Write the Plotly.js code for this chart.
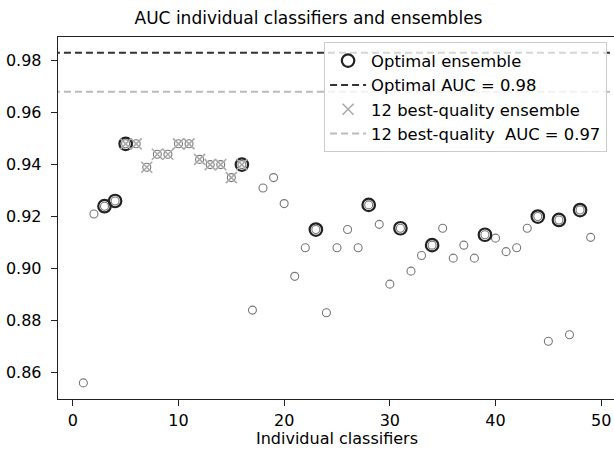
<!DOCTYPE html>
<html>
<head>
<meta charset="utf-8">
<script src="https://cdn.plot.ly/plotly-3.0.1.min.js"></script>
<style>
html,body{margin:0;padding:0;overflow:hidden;background:#fff;}
#chart{width:617px;height:455px;}
</style>
</head>
<body>
<div id="chart"></div>
<script>
// Individual classifier indices and their AUC values
const classifiers = [1,2,3,4,5,6,7,8,9,10,11,12,13,14,15,16,17,18,19,20,21,22,23,24,25,
  26,27,28,29,30,31,32,33,34,35,36,37,38,39,40,41,42,43,44,45,46,47,48,49];
const aucValues = [0.856,0.921,0.924,0.926,0.948,0.948,0.939,0.944,0.944,0.948,0.948,0.942,0.940,0.940,0.935,
  0.940,0.884,0.931,0.935,0.925,0.897,0.908,0.915,0.883,0.908,
  0.915,0.908,0.9245,0.917,0.894,0.9155,0.899,0.905,0.909,0.9155,0.904,0.909,0.904,0.913,0.9117,
  0.9065,0.908,0.9155,0.920,0.872,0.9187,0.8745,0.9225,0.912];
// Members of the optimal ensemble
const optimalMembers = [3,4,5,16,23,28,31,34,39,44,46,48];
// Members of the 12 best-quality ensemble
const bestMembers = [5,6,7,8,9,10,11,12,13,14,15,16];
const optimalAUC = 0.983;
const bestAUC = 0.968;
const lineX = [-5, 60];
const xTicks = [0,10,20,30,40,50];
const yTicks = [0.86,0.88,0.90,0.92,0.94,0.96,0.98];
const labels = {
  title: "AUC individual classifiers and ensembles",
  xTitle: "Individual classifiers",
  optimal: "Optimal ensemble",
  optimalLine: "Optimal AUC = 0.98",
  best: "12 best-quality ensemble",
  bestLine: "12 best-quality  AUC = 0.97"
};

const aucOf = k => aucValues[classifiers.indexOf(k)];
const FONT = "DejaVu Sans, sans-serif";

const traces = [
  {x: classifiers, y: aucValues, type: 'scatter', mode: 'markers', showlegend: false,
   marker: {symbol: 'circle-open', size: 8, color: '#777', line: {width: 1.1, color: '#777'}}},
  {x: optimalMembers, y: optimalMembers.map(aucOf), type: 'scatter', mode: 'markers', name: labels.optimal,
   marker: {symbol: 'circle-open', size: 12.5, color: '#222', line: {width: 2.2, color: '#222'}}},
  {x: lineX, y: lineX.map(() => optimalAUC), type: 'scatter', mode: 'lines', name: labels.optimalLine,
   line: {color: '#333', width: 2, dash: '7px,4px'}},
  {x: bestMembers, y: bestMembers.map(aucOf), type: 'scatter', mode: 'markers', name: labels.best,
   marker: {symbol: 'x-thin-open', size: 11, color: '#aaa', line: {width: 1.6, color: '#aaa'}}},
  {x: lineX, y: lineX.map(() => bestAUC), type: 'scatter', mode: 'lines', name: labels.bestLine,
   line: {color: '#bbb', width: 2, dash: '7px,4px'}}
];

const layout = {
  width: 617, height: 455,
  margin: {l: 57.5, r: 1.4, t: 36.7, b: 55.7, pad: 0},
  paper_bgcolor: '#fff', plot_bgcolor: '#fff',
  font: {family: FONT, size: 16, color: '#000'},
  title: {text: labels.title, font: {family: FONT, size: 17, color: '#000'}, x: 0.5, xanchor: 'center', y: 0.96, yanchor: 'middle'},
  xaxis: {range: [-1.4, 51.4], tickvals: xTicks, ticktext: xTicks.map(String), showgrid: false, zeroline: false,
    showline: true, mirror: true, linecolor: '#222', linewidth: 1.3, ticks: 'outside', ticklen: 6, tickcolor: '#222', tickwidth: 1.2,
    tickfont: {family: FONT, size: 16, color: '#000'},
    title: {text: labels.xTitle, font: {family: FONT, size: 16, color: '#000'}, standoff: 4}},
  yaxis: {range: [0.8498, 0.9891], tickvals: yTicks, ticktext: yTicks.map(v => v.toFixed(2)), showgrid: false, zeroline: false,
    showline: true, mirror: true, linecolor: '#222', linewidth: 1.3, ticks: 'outside', ticklen: 6, tickcolor: '#222', tickwidth: 1.2,
    ticklabelstandoff: 6,
    tickfont: {family: FONT, size: 16, color: '#000'}},
  legend: {x: 0.984, xanchor: 'right', y: 0.985, yanchor: 'top', bgcolor: 'rgba(255,255,255,0.8)',
    bordercolor: '#ccc', borderwidth: 1, font: {family: FONT, size: 16.4, color: '#000'}, tracegroupgap: 0,
    itemwidth: 36},
  showlegend: true
};

Plotly.newPlot('chart', traces, layout, {displayModeBar: false, staticPlot: true});
</script>
</body>
</html>
